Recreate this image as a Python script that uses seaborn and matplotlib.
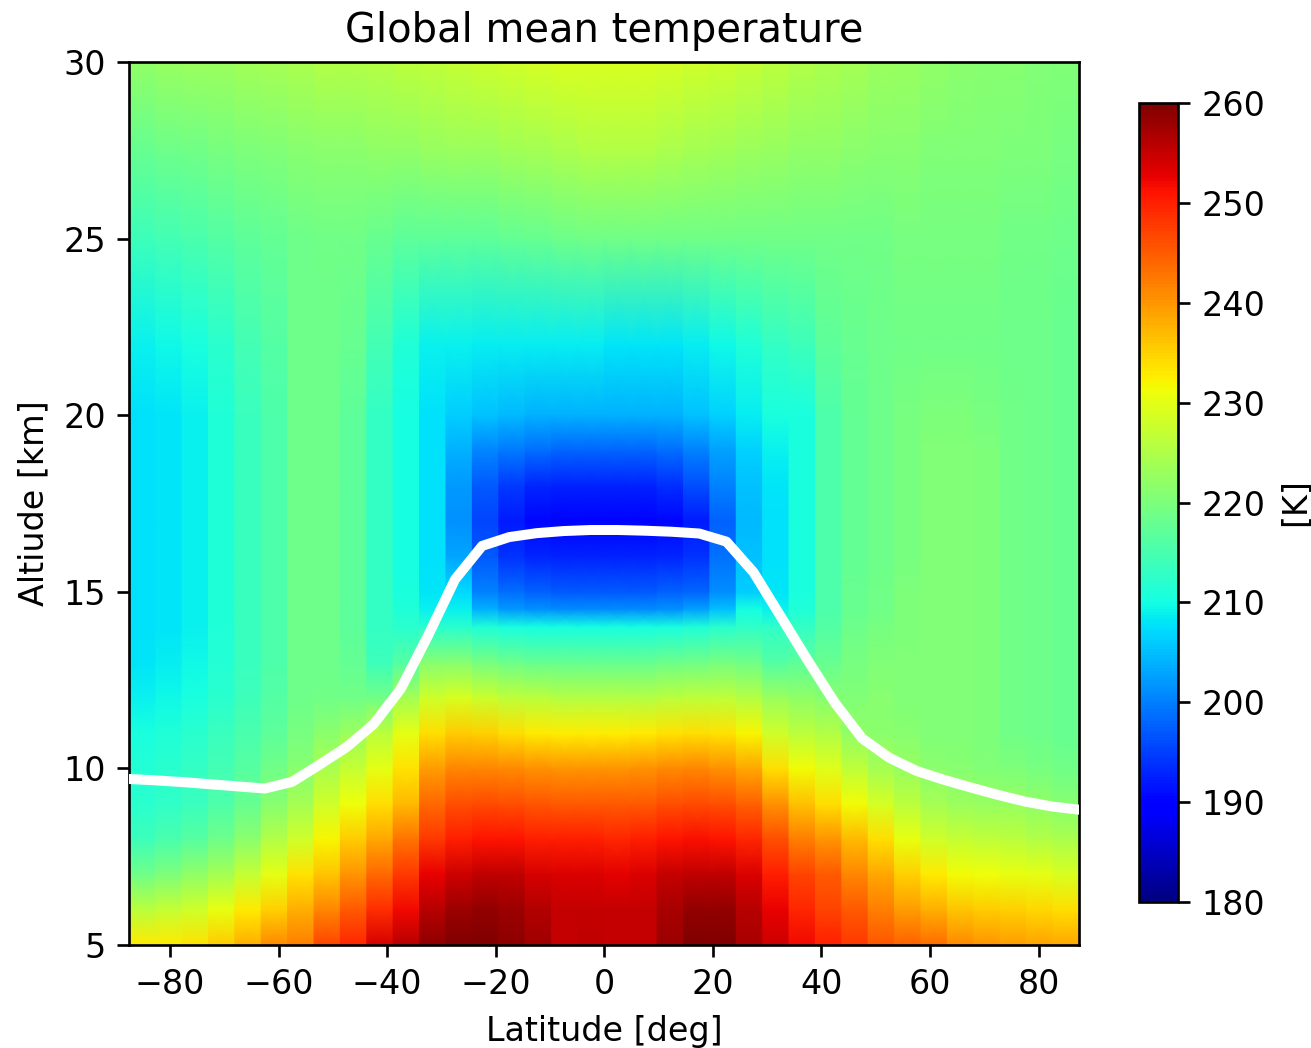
import numpy as np
import matplotlib
matplotlib.use("Agg")
import matplotlib.pyplot as plt
import seaborn as sns

# Zonal-mean grid: latitude band centres [deg] and altitude levels [km]
latitudes = np.arange(-87.5, 88.0, 5.0)
altitudes = [5, 6, 7, 8, 9, 10, 11, 12, 13, 14, 14.5, 15, 16, 17, 18, 19, 20, 22, 25, 27.5, 30]

# Temperature profiles [K], one list per latitude band (south to north),
# values given at the altitude levels above
temperature_profiles = [
    [233, 226, 219, 214, 212, 211.5, 210.5, 209, 208, 207.5, 207.5, 207.5, 207.5, 207.5, 207.5, 207.5, 207.5, 209, 214, 218, 222],
    [233, 227, 220, 215, 212.5, 212, 211, 209.5, 208.5, 208, 208, 208, 208, 208, 208, 208, 208, 209.5, 214.5, 218.5, 222.5],
    [233.5, 228, 222, 216.5, 213.5, 213, 212, 210.5, 209.5, 209, 209, 209, 209, 209, 209, 209, 209, 210.5, 215, 219, 223],
    [235.5, 230.5, 224, 218.5, 215.5, 214.5, 213.5, 212, 211.5, 211, 211, 211, 211, 211, 211, 211, 211, 212, 216, 219.5, 223],
    [238, 233, 227, 221.5, 218, 216.5, 215, 214, 213.5, 213.5, 213.5, 213.5, 213.5, 213.5, 213.5, 213.5, 213.5, 214.5, 217, 220, 223.5],
    [241, 235, 230, 225, 221, 219, 217, 216, 215.5, 215.5, 215.5, 215.5, 215.5, 215.5, 215.5, 215.5, 215.5, 216, 217.5, 220.5, 224],
    [242, 238, 233.5, 228, 224, 221, 219.5, 218.5, 218.5, 218.5, 218.5, 218.5, 218.5, 218.5, 218.5, 218.5, 218.5, 218.5, 218.5, 221, 224.5],
    [247, 241.5, 236, 232, 228, 224.5, 221.5, 219, 218.5, 218.5, 218.5, 218.5, 218.5, 218.5, 218.5, 218.5, 218.5, 218.5, 219, 221.5, 225],
    [249.5, 245, 240, 235.5, 231, 227, 223, 219, 217.5, 217, 217, 217, 217, 217, 217, 217, 217, 218, 219, 221.5, 225],
    [254, 249, 244, 238.5, 234, 230, 226, 219, 214, 213, 213, 213, 213, 213, 213, 213, 213, 214.5, 218, 222, 225.5],
    [256, 252, 248, 243, 237, 233.5, 230, 224, 216, 212, 211, 210.5, 210, 210, 210, 210, 210, 211, 217, 222, 226],
    [259, 256, 252.5, 248, 244, 239.5, 234, 228, 221, 212, 209, 208, 207.5, 207.5, 207.5, 207.5, 207.5, 209, 217, 222.5, 226.5],
    [260, 258, 254.5, 250, 246, 241.5, 235.5, 229, 221, 212, 209, 207, 203, 201.5, 202, 204, 206, 209, 217, 223, 227],
    [260, 258.5, 255.5, 251, 246.5, 241.5, 235, 227.5, 219.5, 211, 204, 200, 197, 195.5, 197, 200.5, 205, 208.5, 217, 223, 227.5],
    [259, 258, 255.5, 251, 246, 241, 234, 226.5, 218.5, 210.5, 202, 198.5, 194, 192, 194.5, 199.5, 204.5, 208.5, 217.5, 223.5, 228],
    [257.5, 256.5, 254, 250, 245.5, 240.5, 233, 226, 218, 210, 201.5, 197.5, 193, 190.5, 193, 198.5, 204, 208.5, 218, 224, 228.5],
    [255, 255, 253.5, 250, 245, 240, 232.5, 225.5, 218, 210, 201, 197, 192.5, 190, 192.5, 198, 204, 208.5, 218.5, 224.5, 229],
    [255.5, 255, 253.5, 250, 245, 240, 232.5, 225.5, 218, 210, 201, 197, 192.5, 190, 192.5, 198, 204, 208.5, 219, 225, 229],
    [255, 255, 253, 249.5, 245, 240, 232.5, 225.5, 218, 210, 201, 197, 192.5, 190, 192.5, 198, 204, 208, 219, 225, 229],
    [255, 255, 253.5, 250, 245, 240.5, 233, 225.5, 218, 210, 201, 197, 192.5, 190, 192.5, 198, 204, 208, 219, 225, 229],
    [258, 257, 255, 251, 246, 241, 233.5, 226, 218.5, 210.5, 201.5, 197.5, 193, 190.5, 193.5, 198.5, 204, 208, 219, 224.5, 228.5],
    [260, 258.5, 255.5, 251.5, 246.5, 241.5, 234, 226.5, 219, 211, 202.5, 198, 194, 192, 196, 200, 205, 208.5, 219, 224, 228],
    [260, 258.5, 255.5, 251, 246, 240.5, 233.5, 226.5, 219.5, 212, 205, 201, 199, 197.5, 200, 202.5, 206.5, 209.5, 219, 223.5, 227.5],
    [257, 256, 253.5, 249.5, 244.5, 238.5, 232, 225.5, 219, 212.5, 210, 206, 205, 204.5, 205, 206.5, 208.5, 211, 219, 223, 227],
    [254.5, 252.5, 250, 246, 240.5, 234, 228, 223, 216, 212.5, 209, 208, 207.5, 207.5, 208, 209, 210.5, 213, 219, 222.5, 226],
    [252, 249.5, 247, 242, 236.5, 231.5, 226, 222, 217, 213, 211, 210.5, 210.5, 210.5, 210.5, 210.5, 210.5, 214, 219, 222, 225],
    [250, 247, 245, 240, 234, 229.5, 225, 221, 218, 216, 215.5, 215.5, 215.5, 215.5, 215.5, 215.5, 215.5, 217, 219, 222, 224.5],
    [248, 245, 241.5, 237, 231.5, 226.5, 222, 220.5, 219.5, 218.5, 218, 218, 217.5, 217.5, 217.5, 217.5, 217.5, 218, 219, 221.5, 224],
    [245.5, 242, 238.5, 234, 228.5, 224, 221.5, 221, 220.5, 219.5, 219, 219, 218.5, 218.5, 218.5, 218.5, 218.5, 218.5, 219, 221, 223],
    [244.5, 239.5, 235, 230.5, 226, 222.5, 221, 220.5, 220.5, 220, 220, 220, 219.5, 219.5, 219.5, 219.5, 219.5, 219, 219.5, 221, 222.5],
    [243.5, 238, 233, 228, 224, 221.5, 220.5, 220.5, 220.5, 220.5, 220.5, 220.5, 220.5, 220.5, 220.5, 220.5, 220, 219, 219.5, 220.5, 222],
    [241, 236, 231.5, 227, 223, 221, 220.5, 220.5, 220.5, 220.5, 220.5, 220.5, 220.5, 220.5, 220.5, 220.5, 220, 219, 219.5, 220.5, 221.5],
    [240, 235.5, 231, 226.5, 222.5, 220.5, 220, 220, 220, 220, 220, 220, 220, 220, 220, 220, 219.5, 219, 219.5, 220.5, 221],
    [239.5, 235, 230.5, 226, 222.5, 220, 219, 219, 219, 219, 219, 219, 219, 219, 219, 219, 219, 218.5, 219, 220, 221],
    [239, 234.5, 230, 225, 222, 219.5, 218.5, 218.5, 218.5, 218.5, 218.5, 218.5, 218.5, 218.5, 218.5, 218.5, 218.5, 218.5, 219, 220, 220.5],
    [238.5, 234, 229, 224.5, 221, 219, 218, 218, 218, 218, 218, 218, 218, 218, 218, 218, 218, 218, 218.5, 219.5, 220.5],
]

# Tropopause height [km] for each latitude band
tropopause_height = [9.70, 9.66, 9.61, 9.55, 9.49, 9.43, 9.62, 10.1, 10.6, 11.25,
                     12.25, 13.75, 15.35, 16.3, 16.55, 16.66, 16.72, 16.75, 16.75, 16.73,
                     16.70, 16.65, 16.42, 15.55, 14.3, 13.05, 11.85, 10.85, 10.3, 9.93,
                     9.68, 9.46, 9.25, 9.06, 8.92, 8.83]

colorbar_ticks = [180, 190, 200, 210, 220, 230, 240, 250, 260]

sns.set_style("ticks")
plt.rcParams.update({
    "font.family": ["DejaVu Sans"],
    "text.color": "black",
    "axes.labelcolor": "black",
    "axes.edgecolor": "black",
    "xtick.color": "black",
    "ytick.color": "black",
    "axes.linewidth": 0.8,
})

DPI = 240
fig = plt.figure(figsize=(1311 / DPI, 1048 / DPI), dpi=DPI)
ax = fig.add_axes([0.0986, 0.0983, 0.7247, 0.8425])
cax = fig.add_axes([0.8688, 0.1393, 0.0298, 0.7624])

# Field: one band per latitude, smooth in altitude
temp = np.array(temperature_profiles).T
edges = np.linspace(latitudes[0], latitudes[-1], len(latitudes) + 1)
x_nodes = np.repeat(edges, 2)[1:-1]
X, Y = np.meshgrid(x_nodes, altitudes)
C = np.repeat(temp, 2, axis=1)
mesh = ax.pcolormesh(X, Y, C, shading="gouraud", cmap="jet",
                     vmin=180, vmax=260, rasterized=True)

# Tropopause
sns.lineplot(x=latitudes, y=tropopause_height, color="white",
             linewidth=3, ax=ax, zorder=3)

ax.set_xlim(latitudes[0], latitudes[-1])
ax.set_ylim(5, 30)
ax.set_xticks(np.arange(-80, 81, 20))
ax.set_yticks([5, 10, 15, 20, 25, 30])
ax.set_xlabel("Latitude [deg]")
ax.set_ylabel("Altiude [km]")
ax.set_title("Global mean temperature")

cb = fig.colorbar(mesh, cax=cax, ticks=colorbar_ticks)
cb.set_label("[K]")
cb.outline.set_linewidth(0.8)

fig.savefig("out.png", dpi=DPI)
